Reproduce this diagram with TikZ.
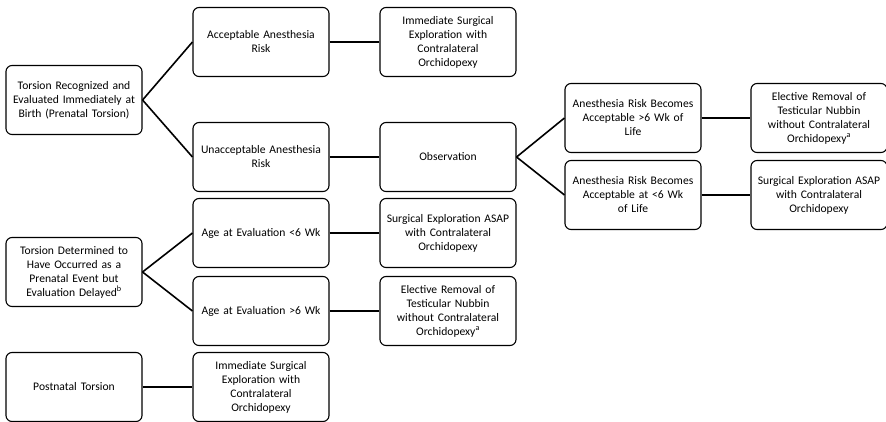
\documentclass[tikz,border=0pt]{standalone}
\usepackage{fontspec}
\setmainfont{Carlito}
\usetikzlibrary{positioning}

\begin{document}
\begin{tikzpicture}[x=1pt, y=-1pt,
      every node/.style={font=\fontsize{11.6}{14}\selectfont, align=center},
      stage/.style={rectangle, draw=black, line width=1.1pt, rounded corners=6pt,
                    minimum width=136pt, minimum height=69pt, text width=134pt, inner sep=1pt},
      link/.style={line width=1.6pt, black},
    ]
    \useasboundingbox (0,0) rectangle (886,421);
    % First column: the three ways a torsion presents.
    \node[stage] (born) at (74,100) {Torsion Recognized and\\Evaluated Immediately at\\Birth (Prenatal Torsion)};
    \node[stage] (late) at (74,272) {Torsion Determined to\\Have Occurred as a\\Prenatal Event but\\Evaluation Delayed\textsuperscript{b}};
    \node[stage] (postnatal) at (74,387) {Postnatal Torsion};
    % Second column.
    \node[stage] (riskok) at (261,42) {Acceptable Anesthesia\\Risk};
    \node[stage] (risknot) at (261,157) {Unacceptable Anesthesia\\Risk};
    \node[stage] (young) at (261,233) {Age at Evaluation <6 Wk};
    \node[stage] (old) at (261,311) {Age at Evaluation >6 Wk};
    \node[stage] (postsurg) at (261,387) {Immediate Surgical\\Exploration with\\Contralateral\\Orchidopexy};
    % Third column.
    \node[stage] (nowsurg) at (448,42) {Immediate Surgical\\Exploration with\\Contralateral\\Orchidopexy};
    \node[stage] (watch) at (448,157) {Observation};
    \node[stage] (youngsurg) at (448,233) {Surgical Exploration ASAP\\with Contralateral\\Orchidopexy};
    \node[stage] (oldremove) at (448,311) {Elective Removal of\\Testicular Nubbin\\without Contralateral\\Orchidopexy\textsuperscript{a}};
    % Fourth and fifth columns: after observation.
    \node[stage] (laterisk) at (633,118) {Anesthesia Risk Becomes\\Acceptable >6 Wk of\\Life};
    \node[stage] (earlyrisk) at (633,195) {Anesthesia Risk Becomes\\Acceptable at <6 Wk\\of Life};
    \node[stage] (lateremove) at (819,118) {Elective Removal of\\Testicular Nubbin\\without Contralateral\\Orchidopexy\textsuperscript{a}};
    \node[stage] (earlysurg) at (819,195) {Surgical Exploration ASAP\\with Contralateral\\Orchidopexy};
    % Connectors.
    \draw[link] (born.east) -- (riskok.west);
    \draw[link] (born.east) -- (risknot.west);
    \draw[link] (riskok) -- (nowsurg);
    \draw[link] (risknot) -- (watch);
    \draw[link] (watch.east) -- (laterisk.west);
    \draw[link] (watch.east) -- (earlyrisk.west);
    \draw[link] (laterisk) -- (lateremove);
    \draw[link] (earlyrisk) -- (earlysurg);
    \draw[link] (late.east) -- (young.west);
    \draw[link] (late.east) -- (old.west);
    \draw[link] (young) -- (youngsurg);
    \draw[link] (old) -- (oldremove);
    \draw[link] (postnatal) -- (postsurg);
  \end{tikzpicture}
\end{document}
